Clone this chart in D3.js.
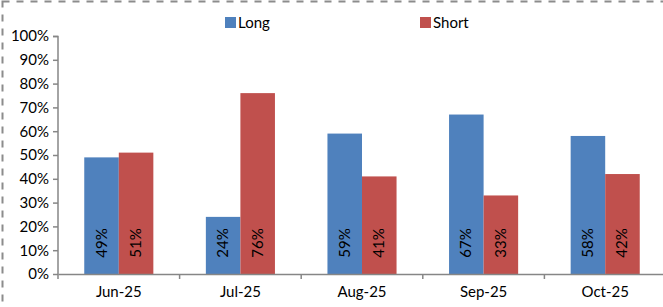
<!DOCTYPE html>
<html lang="en">
<head>
    <meta charset="UTF-8">
    <title>Long vs Short</title>
    <script src="https://d3js.org/d3.v7.min.js"></script>
    <style>
        body { margin: 0; background: #fff; }
        text { font-family: Lato, "Open Sans", sans-serif; fill: #000; }
    </style>
</head>
<body>
    <div id="chart"></div>
    <script>
        // chart data
        var months = ["Jun-25", "Jul-25", "Aug-25", "Sep-25", "Oct-25"];
        var longVals = [49, 24, 59, 67, 58];
        var shortVals = [51, 76, 41, 33, 42];
        var seriesNames = ["Long", "Short"];
        var yTicks = [0, 10, 20, 30, 40, 50, 60, 70, 80, 90, 100];

        var colors = { Long: "#4F81BD", Short: "#C0504D" };
        var W = 663, H = 307;
        var margin = { top: 36, right: -3, bottom: 33, left: 58 };
        var width = W - margin.left - margin.right,
            height = H - margin.top - margin.bottom;

        var svg = d3.select("#chart").append("svg")
            .attr("width", W).attr("height", H);

        // dashed outer frame
        svg.append("rect")
            .attr("x", 2.5).attr("y", 1.5)
            .attr("width", W + 10).attr("height", H + 10)
            .attr("fill", "none")
            .attr("stroke", "#8c8c8c")
            .attr("stroke-width", 2)
            .attr("stroke-dasharray", "7,7");

        var g = svg.append("g")
            .attr("transform", "translate(" + margin.left + "," + margin.top + ")");

        var x = d3.scaleBand().domain(months).range([0, width]).paddingInner(0).paddingOuter(0);
        var x1 = d3.scaleBand().domain(seriesNames).range([0, x.bandwidth()]).paddingInner(0).paddingOuter(0.76);
        var y = d3.scaleLinear().domain([0, 100]).range([height, 0]);

        var rows = months.map(function(m, i) {
            return { month: m, values: [
                { key: "Long", v: longVals[i] },
                { key: "Short", v: shortVals[i] }
            ]};
        });

        var groups = g.selectAll(".grp").data(rows).enter().append("g")
            .attr("transform", function(d) { return "translate(" + x(d.month) + ",0)"; });

        groups.selectAll("rect").data(function(d) { return d.values; }).enter().append("rect")
            .attr("x", function(d) { return x1(d.key); })
            .attr("y", function(d) { return y(d.v); })
            .attr("width", x1.bandwidth())
            .attr("height", function(d) { return height - y(d.v); })
            .attr("fill", function(d) { return colors[d.key]; });

        groups.selectAll(".lbl").data(function(d) { return d.values; }).enter().append("text")
            .attr("class", "lbl")
            .attr("transform", function(d) {
                return "translate(" + (x1(d.key) + x1.bandwidth() / 2 + 5) + "," + (height - 31) + ") rotate(-90)";
            })
            .attr("text-anchor", "middle")
            .style("font-size", "15px")
            .text(function(d) { return d.v + "%"; });

        // y axis
        var yAxis = g.append("g")
            .call(d3.axisLeft(y).tickValues(yTicks).tickSize(5).tickFormat(function(d) { return d + "%"; }));
        yAxis.select(".domain").attr("stroke", "#868686").attr("stroke-width", 1.5).attr("d", "M-5,0.5H0V" + height);
        yAxis.selectAll(".tick line").attr("stroke", "#868686").attr("stroke-width", 1.5);
        yAxis.selectAll(".tick text").attr("x", -9).style("font-size", "15px").style("font-family", "Lato, sans-serif");

        // x axis
        var xAxis = g.append("g")
            .attr("transform", "translate(0," + height + ")")
            .call(d3.axisBottom(x).tickSize(0));
        xAxis.select(".domain").attr("stroke", "#868686").attr("stroke-width", 1.5);
        xAxis.selectAll(".tick text").attr("dy", "1.35em").style("font-size", "15px").style("font-family", "Lato, sans-serif");
        months.forEach(function(m) {
            xAxis.append("line")
                .attr("x1", x(m)).attr("x2", x(m))
                .attr("y1", 0).attr("y2", 5)
                .attr("stroke", "#868686").attr("stroke-width", 1.5);
        });

        // legend
        var legendX = [225, 420];
        var legend = svg.selectAll(".legend").data(seriesNames).enter().append("g")
            .attr("transform", function(d, i) { return "translate(" + legendX[i] + ",17)"; });
        legend.append("rect").attr("width", 11).attr("height", 11)
            .attr("fill", function(d) { return colors[d]; });
        legend.append("text").attr("x", 13).attr("y", 10.5)
            .style("font-size", "15px")
            .text(function(d) { return d; });
    </script>
</body>
</html>
